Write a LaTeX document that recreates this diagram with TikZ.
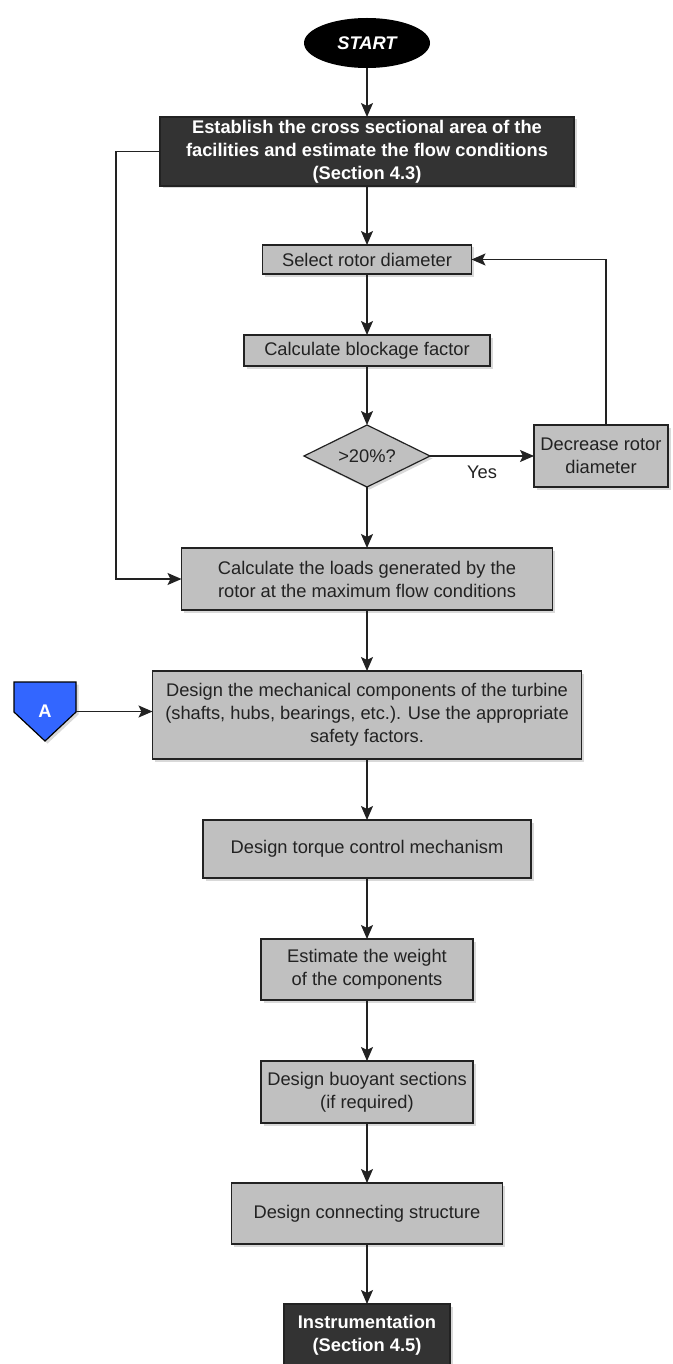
\documentclass[tikz,border=0pt]{standalone}
\usepackage{fontspec}
\setmainfont{Liberation Sans}
\usetikzlibrary{shapes.geometric,positioning,arrows.meta,shadows}

\definecolor{boxgrey}{HTML}{C0C0C0}
\definecolor{boxdark}{HTML}{333333}
\definecolor{linkblue}{HTML}{3366FF}
\definecolor{edge}{HTML}{222222}

\begin{document}
\begin{tikzpicture}[
  x=1pt,y=-1pt,
  >={Stealth[length=14pt,width=12pt,inset=3pt]},
  node distance=60pt,
  font=\fontsize{18.3}{23}\selectfont,
  shade/.style={drop shadow={shadow xshift=2.5pt,shadow yshift=-2.5pt,opacity=0.3}},
  process/.style={draw=edge,line width=1.2pt,fill=boxgrey,text=edge,align=center,
    inner sep=0pt,outer sep=0pt,shade},
  keybox/.style={process,fill=boxdark,text=white,font=\fontsize{18.3}{23}\selectfont\bfseries},
  terminal/.style={ellipse,fill=black,text=white,inner sep=0pt,outer sep=0pt,
    minimum width=126pt,minimum height=50pt,font=\fontsize{18.3}{23}\selectfont\bfseries\itshape},
  test/.style={diamond,aspect=2,draw=edge,line width=1.2pt,fill=boxgrey,text=edge,inner sep=0pt,
    outer sep=0pt,minimum width=126pt,minimum height=62pt,shade},
  offpage/.style={text=white,inner sep=0pt,outer sep=0pt,minimum width=62pt,
    minimum height=59pt,font=\fontsize{18.3}{23}\selectfont\bfseries},
  flow/.style={->,draw=edge,line width=1.5pt}
]
  \useasboundingbox (0,0) rectangle (672,1364);

  \node[terminal] (start) at (367,43) {START};
  \node[keybox,minimum width=414pt,minimum height=69pt,below=49pt of start] (area)
    {Establish the cross sectional area of the\\facilities and estimate the flow conditions\\(Section 4.3)};
  \node[process,minimum width=209pt,minimum height=29pt,below=59pt of area] (rotor)
    {Select rotor diameter};
  \node[process,minimum width=246pt,minimum height=31pt,below=61pt of rotor] (blockage)
    {Calculate blockage factor};
  \node[test,below=59pt of blockage] (limit) {>20\%?};
  \node[process,minimum width=134pt,minimum height=62pt,right=104pt of limit] (shrink)
    {Decrease rotor\\diameter};
  \node[process,minimum width=371pt,minimum height=62pt,below=61pt of limit] (loads)
    {Calculate the loads generated by the\\rotor at the maximum flow conditions};
  \node[process,minimum width=429pt,minimum height=88pt,below=61pt of loads] (mech)
    {Design the mechanical components of the turbine\\(shafts, hubs, bearings, etc.). Use the appropriate\\safety factors.};
  \node[process,minimum width=328pt,minimum height=58pt,below=61pt of mech] (torque)
    {Design torque control mechanism};
  \node[process,minimum width=212pt,minimum height=61pt,below=61pt of torque] (weight)
    {Estimate the weight\\of the components};
  \node[process,minimum width=212pt,minimum height=62pt,below=61pt of weight] (buoy)
    {Design buoyant sections\\(if required)};
  \node[process,minimum width=271pt,minimum height=61pt,below=60pt of buoy] (frame)
    {Design connecting structure};
  \node[keybox,minimum width=166pt,minimum height=62pt,below=60pt of frame] (instr)
    {Instrumentation\\(Section 4.5)};

  % off-page connector A, a house shape pointing down
  \path[fill=linkblue,draw=black,line width=1.2pt,shade]
    (14,682) -- ++(62,0) -- ++(0,30) -- ++(-31,29) -- ++(-31,-29) -- cycle;
  \node[offpage] (A) at (45,711.5) {A};

  % main line
  \draw[flow] (start) -- (area);
  \draw[flow] (area) -- (rotor);
  \draw[flow] (rotor) -- (blockage);
  \draw[flow] (blockage) -- (limit);
  \draw[flow] (limit) -- (loads);
  \draw[flow] (loads) -- (mech);
  \draw[flow] (mech) -- (torque);
  \draw[flow] (torque) -- (weight);
  \draw[flow] (weight) -- (buoy);
  \draw[flow] (buoy) -- (frame);
  \draw[flow] (frame) -- (instr);

  % loops
  \draw[flow] (limit) -- node[below=6pt,text=edge] {Yes} (shrink);
  \draw[flow] ([xshift=5pt]shrink.north) |- (rotor);
  \draw[flow] (area.west) -- ++(-44,0) |- (loads.west);
  \draw[flow] (A.east) -- (A.east -| mech.west);
\end{tikzpicture}
\end{document}
